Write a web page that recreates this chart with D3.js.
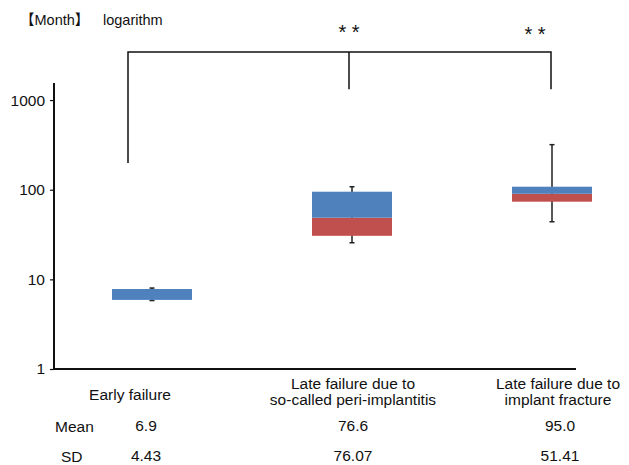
<!DOCTYPE html>
<html>
<head>
<meta charset="utf-8">
<script src="https://cdn.jsdelivr.net/npm/d3@7"></script>
<style>
  body { margin: 0; background: #fff; }
  svg text { font-family: "Liberation Sans", Arial, sans-serif; fill: #111; }
</style>
</head>
<body>
<svg id="chart" width="629" height="465"></svg>
<script>
// categories (two-line labels) and box statistics, in months
var categories = ["Early failure", "Late failure due to\nso-called peri-implantitis", "Late failure due to\nimplant fracture"];
var whiskLow  = [5.8, 25.6, 43.9];
var q1        = [5.9, 30.6, 73.5];
var median    = [5.9, 48.7, 90];
var q3        = [7.8, 95, 108];
var whiskHigh = [8.0, 108, 318];

// table under the chart
var means = ["6.9", "76.6", "95.0"];
var sds   = ["4.43", "76.07", "51.41"];

var yTicks = [1, 10, 100, 1000];

// significance bracket ends (in axis units)
var bracketLeftEnd = 198;
var bracketRightEnd = 1322;

var svg = d3.select("#chart");
var fs = "15.5px";

// log axis: 1 at the bottom of the plot, up to ~1550 at the top
var y = d3.scaleLog()
  .domain([1, 1550])
  .range([369, 83]);

var x = d3.scaleBand()
  .domain(d3.range(categories.length))
  .range([52, 652]);

var boxW = x.bandwidth() * 0.4;
var cx = function(i) { return x(i) + x.bandwidth() / 2; };

// y axis
var yAxis = d3.axisLeft(y)
  .tickValues(yTicks)
  .tickFormat(d3.format("d"))
  .tickSize(4)
  .tickPadding(5);

var gy = svg.append("g")
  .attr("transform", "translate(54,0)")
  .call(yAxis);
gy.select(".domain").remove();
gy.selectAll(".tick line").attr("stroke", "#111").attr("stroke-width", 1.2);
gy.selectAll(".tick text")
  .style("font-size", fs)
  .style("font-family", "Liberation Sans, Arial, sans-serif")
  .attr("fill", "#111");

svg.append("line")
  .attr("x1", 54).attr("x2", 54)
  .attr("y1", y(1) + 1).attr("y2", y.range()[1])
  .attr("stroke", "#111").attr("stroke-width", 2);

// x axis line
svg.append("line")
  .attr("x1", 53).attr("x2", 576)
  .attr("y1", y(1)).attr("y2", y(1))
  .attr("stroke", "#111").attr("stroke-width", 2);

// whiskers (drawn first so the boxes cover them)
var idx = d3.range(categories.length);
var wg = svg.append("g").attr("stroke", "#222").attr("stroke-width", 1.5);
wg.selectAll(".wl").data(idx).enter().append("line")
  .attr("x1", cx).attr("x2", cx)
  .attr("y1", function(i) { return y(whiskLow[i]); })
  .attr("y2", function(i) { return y(whiskHigh[i]); });
[whiskLow, whiskHigh].forEach(function(arr) {
  wg.selectAll(null).data(idx).enter().append("line")
    .attr("x1", function(i) { return cx(i) - 2.5; })
    .attr("x2", function(i) { return cx(i) + 2.5; })
    .attr("y1", function(i) { return y(arr[i]); })
    .attr("y2", function(i) { return y(arr[i]); });
});

// red box: q1 -> median, blue box: median -> q3
svg.selectAll(".lower").data(idx).enter().append("rect")
  .attr("x", function(i) { return cx(i) - boxW / 2; })
  .attr("width", boxW)
  .attr("y", function(i) { return y(median[i]); })
  .attr("height", function(i) { return y(q1[i]) - y(median[i]); })
  .attr("fill", "#C0504D");

svg.selectAll(".upper").data(idx).enter().append("rect")
  .attr("x", function(i) { return cx(i) - boxW / 2; })
  .attr("width", boxW)
  .attr("y", function(i) { return y(q3[i]); })
  .attr("height", function(i) { return y(median[i]) - y(q3[i]); })
  .attr("fill", "#4F81BD");

// significance bracket
var bx0 = 128, bx1 = cx(1) - 3, bx2 = cx(2) - 1, bTopY = 52;
var br = svg.append("g").attr("fill", "none").attr("stroke", "#111").attr("stroke-width", 1.5);
br.append("path").attr("d",
  "M" + bx0 + "," + y(bracketLeftEnd) + "V" + bTopY + "H" + bx2 + "V" + y(bracketRightEnd));
br.append("path").attr("d", "M" + bx1 + "," + bTopY + "V" + y(bracketRightEnd));

svg.append("text").attr("x", bx1).attr("y", 39).attr("text-anchor", "middle")
  .style("font-size", "20px").text("* *");
svg.append("text").attr("x", bx2 - 16).attr("y", 41).attr("text-anchor", "middle")
  .style("font-size", "20px").text("* *");

// header
var hdr = svg.append("text").attr("x", 20).attr("y", 25).style("font-size", "14.5px");
hdr.append("tspan").style("font-family", "'Noto Sans CJK JP', sans-serif").text("【");
hdr.append("tspan").text("Month");
hdr.append("tspan").style("font-family", "'Noto Sans CJK JP', sans-serif").text("】");
svg.append("text").attr("x", 103).attr("y", 25)
  .style("font-size", "14.5px").text("logarithm");

// category labels
var labelShift = [-22, 1, 6];
idx.forEach(function(i) {
  var lines = categories[i].split("\n");
  var t = svg.append("text")
    .attr("text-anchor", "middle")
    .attr("x", cx(i) + labelShift[i])
    .attr("y", lines.length === 1 ? 400 : 389)
    .style("font-size", fs);
  lines.forEach(function(l, k) {
    t.append("tspan").attr("x", cx(i) + labelShift[i]).attr("dy", k === 0 ? 0 : 16).text(l);
  });
});

// mean / SD table
var valueShift = [-6, 1, 8];
svg.append("text").attr("x", 55).attr("y", 432).style("font-size", fs).text("Mean");
svg.append("text").attr("x", 61).attr("y", 462).style("font-size", fs).text("SD");
svg.selectAll(".mean").data(idx).enter().append("text")
  .attr("text-anchor", "middle")
  .attr("x", function(i) { return cx(i) + valueShift[i]; })
  .attr("y", 431)
  .style("font-size", fs)
  .text(function(i) { return means[i]; });
svg.selectAll(".sd").data(idx).enter().append("text")
  .attr("text-anchor", "middle")
  .attr("x", function(i) { return cx(i) + valueShift[i]; })
  .attr("y", 461)
  .style("font-size", fs)
  .text(function(i) { return sds[i]; });
</script>
</body>
</html>
